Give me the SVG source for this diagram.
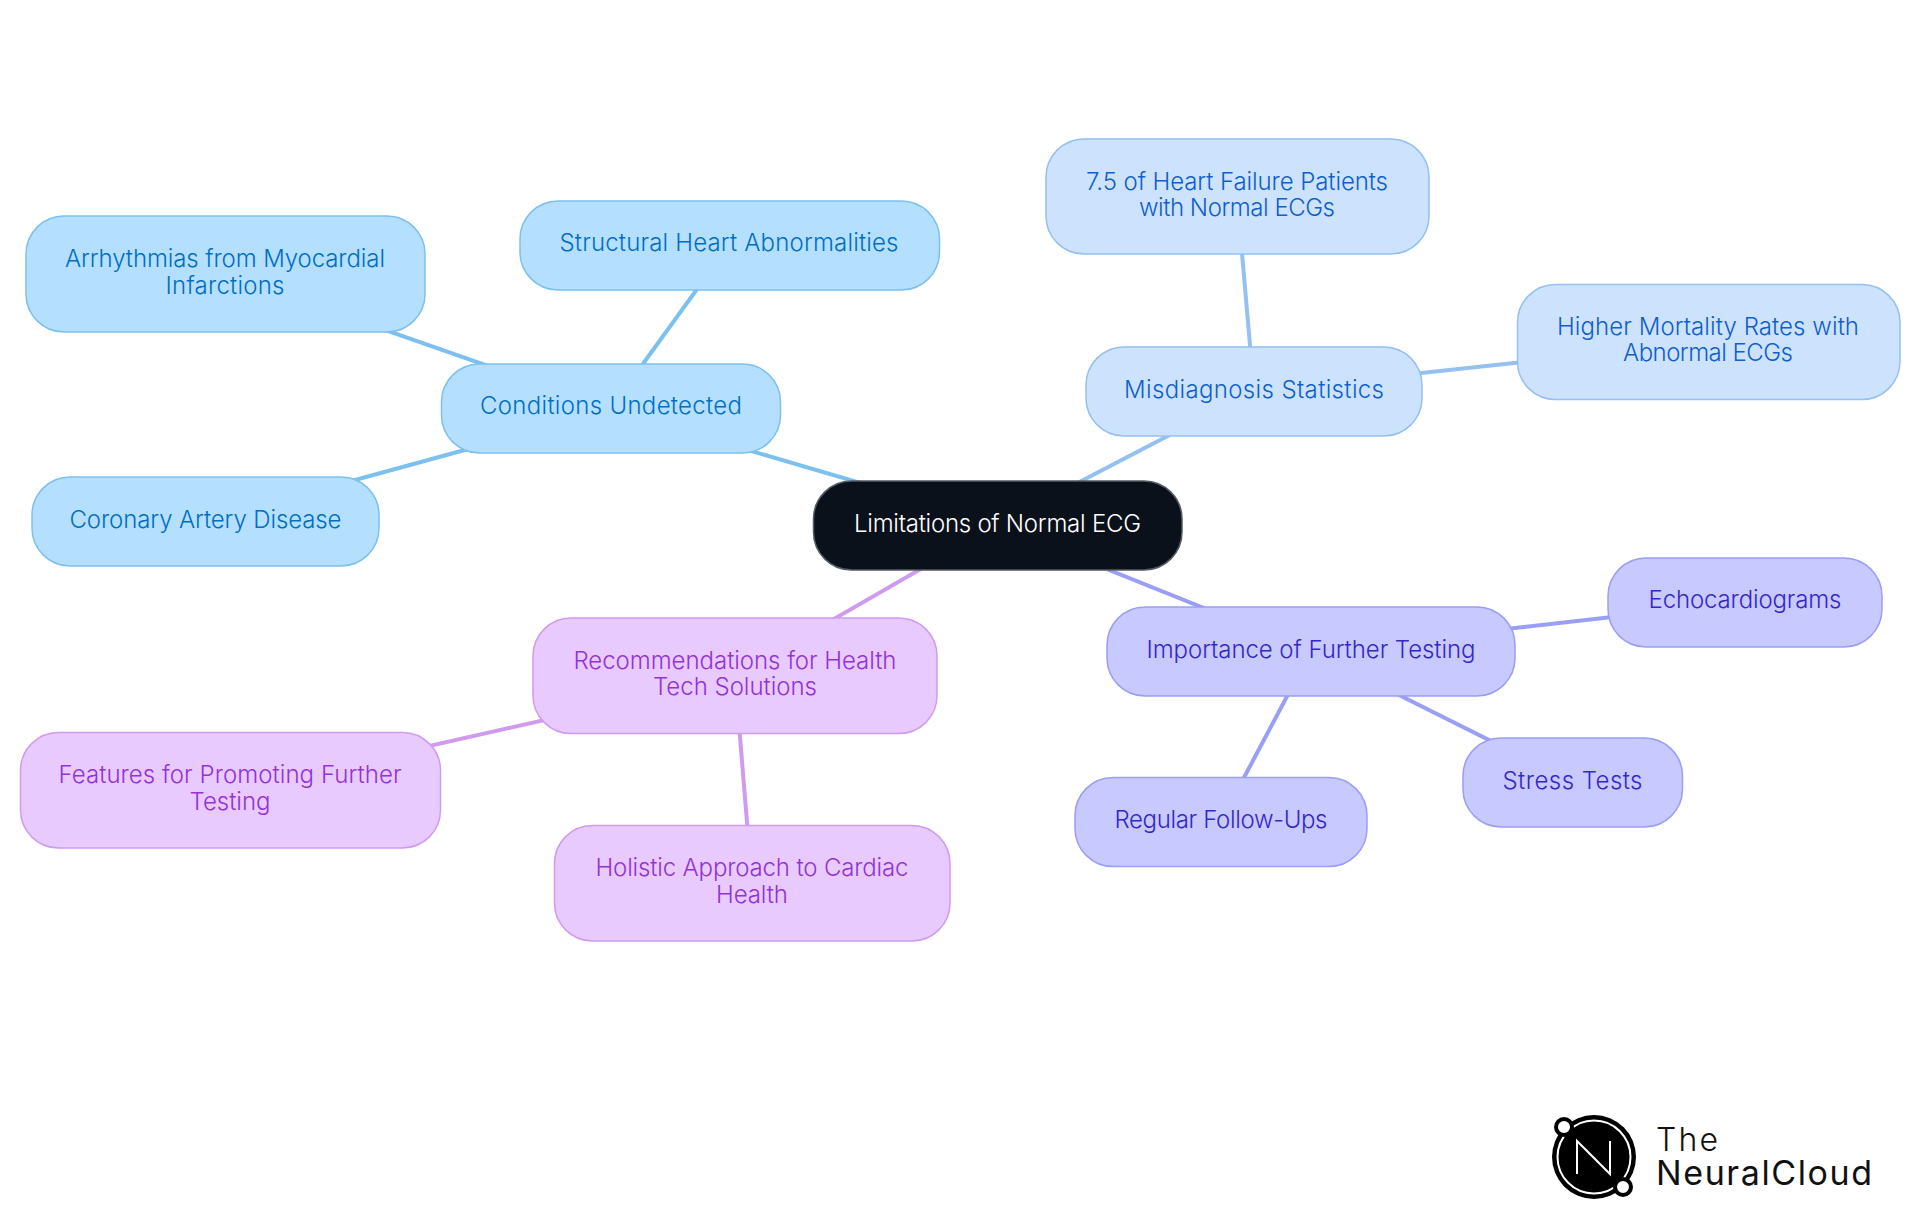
<svg xmlns="http://www.w3.org/2000/svg" width="1920" height="1215" viewBox="0 0 1920 1215">
<style>
text{font-family:"Inter","Liberation Sans",sans-serif;font-size:24px;font-weight:350;text-anchor:middle}
.c line{stroke-width:4;fill:none}
.b rect{fill:#b5dfff;stroke:#7cc0f0}.b text{fill:#006fc4}
.l rect{fill:#cde3fd;stroke:#94c0f2}.l text{fill:#0f5fcf}
.p rect{fill:#c7c9ff;stroke:#9a9ef5}.p text{fill:#3428c9}
.v rect{fill:#e8caff;stroke:#cf9bf0}.v text{fill:#9333d8}
rect{stroke-width:1.5}
</style>
<rect width="1920" height="1215" fill="#fff" stroke="none"/>
<g class="c" id="connectors">
<line x1="997" y1="523" x2="611" y2="410" stroke="#7cc0f0"/>
<line x1="611" y1="408" x2="729" y2="245" stroke="#7cc0f0"/>
<line x1="608" y1="408" x2="225" y2="274" stroke="#7cc0f0"/>
<line x1="611" y1="410" x2="205" y2="521" stroke="#7cc0f0"/>
<line x1="997" y1="525" x2="1254" y2="391" stroke="#94c0f2"/>
<line x1="1254" y1="391" x2="1237" y2="196" stroke="#94c0f2"/>
<line x1="1254" y1="391" x2="1708" y2="342" stroke="#94c0f2"/>
<line x1="997" y1="525" x2="1311" y2="651" stroke="#9a9ef5"/>
<line x1="1311" y1="651" x2="1745" y2="602" stroke="#9a9ef5"/>
<line x1="1311" y1="651" x2="1573" y2="782" stroke="#9a9ef5"/>
<line x1="1311" y1="651" x2="1221" y2="821" stroke="#9a9ef5"/>
<line x1="997" y1="525" x2="735" y2="676" stroke="#cf9bf0"/>
<line x1="735" y1="677" x2="230" y2="791" stroke="#cf9bf0"/>
<line x1="735" y1="676" x2="752" y2="883" stroke="#cf9bf0"/>
</g>
<g id="root"><rect x="813.500" y="481" width="368.500" height="89" rx="38" fill="#0b111a" stroke="#555b63"/><text x="997.500" y="532" fill="#fff" textLength="287">Limitations of Normal ECG</text></g>
<g id="conditions" class="b"><rect x="441.500" y="364" width="339" height="89" rx="38"/><text x="611" y="414" textLength="262">Conditions Undetected</text></g>
<g id="structural" class="b"><rect x="520" y="201" width="419.500" height="89" rx="38"/><text x="729" y="251" textLength="339">Structural Heart Abnormalities</text></g>
<g id="arrhythmias" class="b"><rect x="26" y="216" width="399" height="116" rx="38"/><text x="225" y="266.500" textLength="320">Arrhythmias from Myocardial</text><text x="225" y="293.500" textLength="119">Infarctions</text></g>
<g id="coronary" class="b"><rect x="32" y="477" width="347" height="89" rx="38"/><text x="205.500" y="527.500" textLength="272">Coronary Artery Disease</text></g>
<g id="misdiagnosis" class="l"><rect x="1086" y="347" width="336" height="89" rx="38"/><text x="1254" y="397.500" textLength="260">Misdiagnosis Statistics</text></g>
<g id="heartfailure" class="l"><rect x="1046" y="139" width="383" height="115" rx="38"/><text x="1237" y="189.500" textLength="302">7.5 of Heart Failure Patients</text><text x="1237" y="215.500" textLength="196">with Normal ECGs</text></g>
<g id="mortality" class="l"><rect x="1517.500" y="284.500" width="382.500" height="115" rx="38"/><text x="1708" y="335" textLength="302">Higher Mortality Rates with</text><text x="1708" y="361" textLength="170">Abnormal ECGs</text></g>
<g id="testing" class="p"><rect x="1107" y="607" width="408" height="89" rx="38"/><text x="1311" y="657.500" textLength="329">Importance of Further Testing</text></g>
<g id="echo" class="p"><rect x="1608" y="558" width="274" height="89" rx="38"/><text x="1745" y="608" textLength="193">Echocardiograms</text></g>
<g id="stress" class="p"><rect x="1463" y="738" width="219.500" height="89" rx="38"/><text x="1572.500" y="788.500" textLength="140">Stress Tests</text></g>
<g id="followups" class="p"><rect x="1075" y="777.500" width="292" height="89" rx="38"/><text x="1221" y="828" textLength="213">Regular Follow-Ups</text></g>
<g id="recommendations" class="v"><rect x="533" y="618" width="404" height="115.500" rx="38"/><text x="735" y="668.500" textLength="323">Recommendations for Health</text><text x="735" y="694.500" textLength="164">Tech Solutions</text></g>
<g id="features" class="v"><rect x="20.500" y="732.500" width="420" height="115.500" rx="38"/><text x="230" y="783" textLength="343">Features for Promoting Further</text><text x="230" y="809.500" textLength="81">Testing</text></g>
<g id="holistic" class="v"><rect x="554.500" y="825.500" width="395.500" height="115.500" rx="38"/><text x="752" y="876" textLength="313">Holistic Approach to Cardiac</text><text x="752" y="902.500" textLength="72">Health</text></g>
<g id="logo">
<circle cx="1594" cy="1157" r="42" fill="#000"/>
<circle cx="1594" cy="1157" r="36.500" fill="none" stroke="#fff" stroke-width="2"/>
<path d="M1577 1174V1141L1610 1174V1141" fill="none" stroke="#fff" stroke-width="2"/>
<circle cx="1564" cy="1127" r="8" fill="#fff" stroke="#000" stroke-width="4"/>
<circle cx="1623" cy="1187" r="8" fill="#fff" stroke="#000" stroke-width="4"/>
<text x="1656" y="1151" textLength="62" style="text-anchor:start;font-size:32px;font-weight:300" fill="#111">The</text>
<text x="1656" y="1185" textLength="216" style="text-anchor:start;font-size:34px;font-weight:400" fill="#111">NeuralCloud</text>
</g>
</svg>
